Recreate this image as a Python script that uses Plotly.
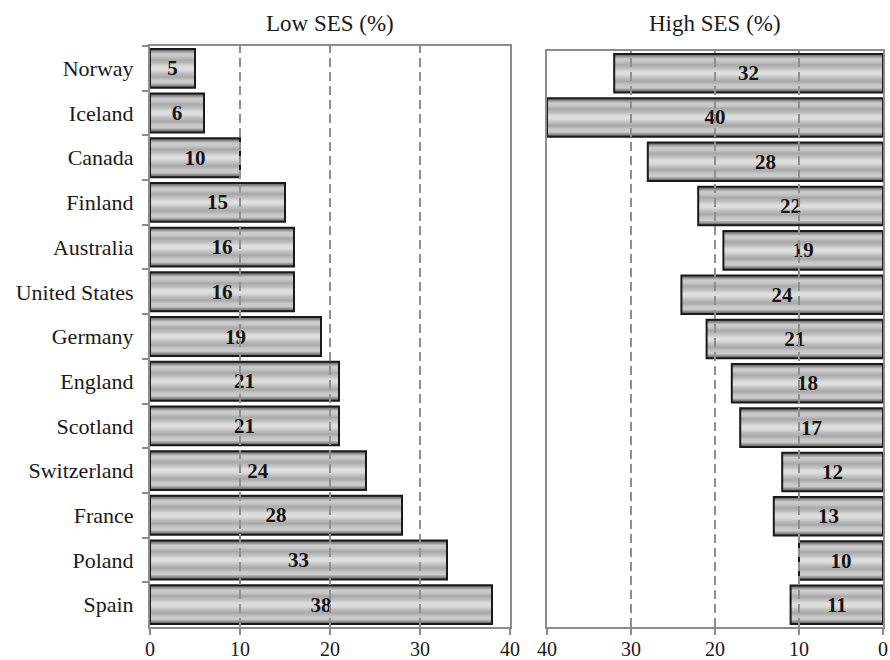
import plotly.graph_objects as go

countries = ["Norway", "Iceland", "Canada", "Finland", "Australia", "United States",
             "Germany", "England", "Scotland", "Switzerland", "France", "Poland", "Spain"]
low_ses = [5, 6, 10, 15, 16, 16, 19, 21, 21, 24, 28, 33, 38]
high_ses = [32, 40, 28, 22, 19, 24, 21, 18, 17, 12, 13, 10, 11]
x_ticks = [0, 10, 20, 30, 40]

W, H = 890, 660
SERIF = "Liberation Serif, Times New Roman, serif"
AXIS_GRAY = "#8c8c8c"
BAR_W = 0.87

# Shading profile across a bar, from its edge (0) to its centre (0.5): gray level
profile = [(0.00, 95), (0.05, 140), (0.11, 205), (0.18, 200), (0.27, 168),
           (0.36, 190), (0.44, 218), (0.50, 225)]
N_STEPS = 22


def gray_at(t):
    for (t0, g0), (t1, g1) in zip(profile, profile[1:]):
        if t0 <= t <= t1:
            return g0 + (g1 - g0) * (t - t0) / (t1 - t0)
    return profile[-1][1]


# nested bar layers (relative width, fill) that build up the shading
shade_layers = []
for i in range(N_STEPS):
    t = 0.5 * i / N_STEPS
    frac = 1 - 2 * t
    g = int(round(gray_at(t)))
    shade_layers.append((frac, f"rgb({g},{g},{g})"))


def px_x(v):
    return v / W


def px_y(v):
    return 1 - v / H


fig = go.Figure()


def add_panel(values, xa, ya):
    for frac, col in shade_layers:
        fig.add_trace(go.Bar(
            x=values, y=countries, orientation="h", width=BAR_W * frac,
            marker=dict(color=col, line=dict(width=0)),
            xaxis=xa, yaxis=ya, hoverinfo="skip", showlegend=False,
        ))
    # outline + value labels on top
    fig.add_trace(go.Bar(
        x=values, y=countries, orientation="h", width=BAR_W,
        marker=dict(color="rgba(0,0,0,0)", line=dict(color="#1a1a1a", width=2)),
        text=[str(v) for v in values], textposition="inside",
        insidetextanchor="middle", textangle=0, constraintext="none",
        textfont=dict(family=SERIF, size=21, color="#151515", weight="bold"),
        xaxis=xa, yaxis=ya, showlegend=False,
    ))


add_panel(low_ses, "x", "y")
add_panel(high_ses, "x2", "y2")

# dashed reference lines drawn over the bars
for xref, yref in (("x", "y domain"), ("x2", "y2 domain")):
    for v in (10, 20, 30):
        fig.add_shape(type="line", xref=xref, yref=yref, x0=v, x1=v, y0=0, y1=1,
                      line=dict(color="#8f8f8f", width=2, dash="9px,5px"), layer="above")

axis_common = dict(
    showline=True, linecolor=AXIS_GRAY, linewidth=2, mirror=True,
    showgrid=False, zeroline=False, automargin=False,
)
tick_font = dict(family=SERIF, size=20, color="#1a1a1a")

fig.update_layout(
    width=W, height=H,
    margin=dict(l=0, r=0, t=0, b=0, autoexpand=False),
    paper_bgcolor="white", plot_bgcolor="white",
    barmode="overlay",
    xaxis=dict(domain=[px_x(150), px_x(510)], range=[0, 40], tickvals=x_ticks,
               ticks="outside", ticklen=6, tickwidth=2, tickcolor=AXIS_GRAY,
               ticklabelstandoff=-3, tickfont=tick_font, anchor="y", **axis_common),
    yaxis=dict(domain=[px_y(627), px_y(46)], autorange="reversed", type="category",
               ticks="outside", ticklen=6, tickwidth=2, tickcolor=AXIS_GRAY,
               tickson="boundaries", ticklabelstandoff=10,
               tickfont=dict(family=SERIF, size=22, color="#1a1a1a"),
               anchor="x", **axis_common),
    xaxis2=dict(domain=[px_x(547), px_x(883)], range=[40, 0], tickvals=x_ticks,
                ticks="outside", ticklen=6, tickwidth=2, tickcolor=AXIS_GRAY,
                ticklabelstandoff=-3, tickfont=tick_font, anchor="y2", **axis_common),
    yaxis2=dict(domain=[px_y(627), px_y(51)], autorange="reversed", type="category",
                showticklabels=False, ticks="", anchor="x2", **axis_common),
    annotations=[
        dict(text="Low SES (%)", x=px_x(330), y=px_y(23), xref="paper", yref="paper",
             xanchor="center", yanchor="middle", showarrow=False,
             font=dict(family=SERIF, size=23, color="#1a1a1a")),
        dict(text="High SES (%)", x=px_x(715), y=px_y(23), xref="paper", yref="paper",
             xanchor="center", yanchor="middle", showarrow=False,
             font=dict(family=SERIF, size=23, color="#1a1a1a")),
    ],
)

fig.write_html("out.html")
